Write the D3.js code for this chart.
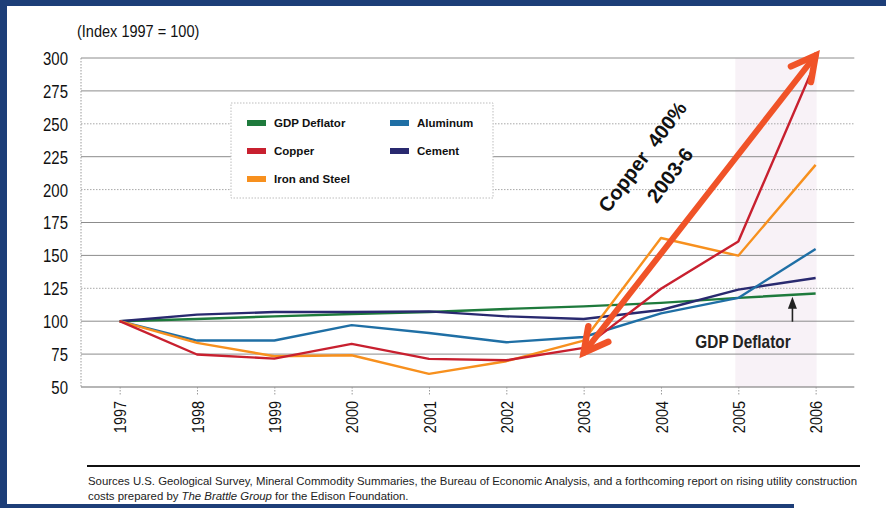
<!DOCTYPE html>
<html>
<head>
<meta charset="utf-8">
<script src="https://cdn.jsdelivr.net/npm/d3@7"></script>
<style>
  html, body { margin: 0; padding: 0; background: #ffffff; }
  svg { display: block; }
  text { font-family: "Liberation Sans", Arial, sans-serif; }
</style>
</head>
<body>
<svg id="chart" width="886" height="508"></svg>
<script>
// Price indices of construction materials, 1997 = 100
const years = [1997, 1998, 1999, 2000, 2001, 2002, 2003, 2004, 2005, 2006];
const gdpDeflator = [100, 101.7, 103.7, 105.5, 107, 109.3, 111.3, 113.9, 117.7, 121];
const copper      = [100, 74.7, 71.6, 82.8, 71.4, 70.3, 79.7, 124.7, 160.6, 297];
const ironSteel   = [100, 83.5, 73.4, 74.1, 60, 69.6, 85.3, 163.2, 149.8, 218.8];
const aluminum    = [100, 85.3, 85.3, 97, 91, 84, 88, 106, 117.7, 154.9];
const cement      = [100, 105, 107, 107, 107.5, 103.7, 101.7, 108.5, 124, 132.8];
const yTicks = [50, 75, 100, 125, 150, 175, 200, 225, 250, 275, 300];
const dottedTicks = [125, 200, 250];

const seriesNames  = ["GDP Deflator", "Copper", "Iron and Steel", "Aluminum", "Cement"];
const seriesColors = ["#1e7a3c", "#c8202f", "#f7901e", "#1f6fa5", "#29296f"];
const seriesValues = [gdpDeflator, copper, ironSteel, aluminum, cement];
const drawOrder = [0, 4, 3, 2, 1];

// Callout: copper rise 2003-2006
const calloutFrom = [2003, 76];
const calloutTo   = [2006, 302];

const svg = d3.select("#chart");

// Squeeze text horizontally to imitate a condensed typeface
function condense(sel, k) {
  sel.each(function () {
    const w = this.getComputedTextLength();
    d3.select(this).attr("textLength", w * k).attr("lengthAdjust", "spacingAndGlyphs");
  });
}

// Frame
svg.append("rect").attr("x", 0).attr("y", 0).attr("width", 886).attr("height", 508).attr("fill", "#ffffff");
svg.append("rect").attr("x", 0).attr("y", 0).attr("width", 886).attr("height", 6).attr("fill", "#1d3e78");
svg.append("rect").attr("x", 0).attr("y", 0).attr("width", 7).attr("height", 508).attr("fill", "#1d3e78");
svg.append("rect").attr("x", 0).attr("y", 504).attr("width", 794).attr("height", 4).attr("fill", "#1d3e78");

const x = d3.scaleLinear().domain([1996.5, 2006.5]).range([81, 854.3]);
const y = d3.scaleLinear().domain([50, 300]).range([387, 58]);

// Shaded 2005-2006 band
svg.append("rect")
  .attr("x", x(2005) - 3).attr("y", y(300))
  .attr("width", x(2006) - x(2005) + 4).attr("height", y(50) - y(300))
  .attr("fill", "#f8f2f7");

// Horizontal gridlines
svg.append("g").selectAll("line").data(yTicks.filter(v => v > 50)).join("line")
  .attr("x1", x.range()[0]).attr("x2", x.range()[1])
  .attr("y1", d => y(d)).attr("y2", d => y(d))
  .attr("stroke", d => dottedTicks.includes(d) ? "#a8a8a8" : "#8c8c8c")
  .attr("stroke-width", 1)
  .attr("stroke-dasharray", d => dottedTicks.includes(d) ? "1.5,1.5" : null);

// Left edge and baseline
svg.append("line").attr("x1", x.range()[0]).attr("x2", x.range()[0])
  .attr("y1", y(300)).attr("y2", y(50))
  .attr("stroke", "#9a9a9a").attr("stroke-dasharray", "1.5,1.5");

// Y axis labels
const yAxis = svg.append("g").attr("transform", `translate(68,0)`)
  .call(d3.axisLeft(y).tickValues(yTicks).tickSize(0).tickPadding(0));
yAxis.select(".domain").remove();
yAxis.selectAll("text")
  .attr("font-size", 18).attr("fill", "#111").attr("dy", "0.36em")
  .style("font-family", "'Liberation Sans', Arial, sans-serif")
  .call(condense, 0.83);

// X axis with rotated year labels
const xAxis = svg.append("g").attr("transform", `translate(0,${y(50)})`)
  .call(d3.axisBottom(x).tickValues(years).tickFormat(d3.format("d")).tickSize(8).tickPadding(0));
xAxis.select(".domain").attr("stroke", "#6e6e6e").attr("stroke-width", 1.2)
  .attr("d", `M${x.range()[0]},0H${x.range()[1]}`);
xAxis.selectAll(".tick line").attr("stroke", "#9a9a9a").attr("stroke-dasharray", "1.5,1.5");
xAxis.selectAll("text")
  .attr("font-size", 17).attr("fill", "#111")
  .style("font-family", "'Liberation Sans', Arial, sans-serif")
  .attr("text-anchor", "end")
  .attr("transform", "rotate(-90)")
  .attr("x", -14).attr("y", 0).attr("dy", "0.36em")
  .call(condense, 0.85);

// Series lines
const line = d3.line().x((d, i) => x(years[i])).y(d => y(d));
svg.append("g").selectAll("path").data(drawOrder).join("path")
  .attr("d", i => line(seriesValues[i]))
  .attr("fill", "none")
  .attr("stroke", i => seriesColors[i])
  .attr("stroke-width", 2.4)
  .attr("stroke-linejoin", "round");

// Title
svg.append("text").attr("x", 77).attr("y", 37)
  .attr("font-size", 16.5).attr("fill", "#111")
  .text("(Index 1997 = 100)")
  .call(condense, 0.88);

// Legend
const legend = svg.append("g");
legend.append("rect").attr("x", 231).attr("y", 103).attr("width", 262).attr("height", 95)
  .attr("fill", "#ffffff").attr("stroke", "#bdbdbd").attr("stroke-dasharray", "1.5,1.5");
const legendPos = [[247, 123], [247, 151], [247, 179], [390, 123], [390, 151]];
seriesNames.forEach((name, i) => {
  const [lx, ly] = legendPos[i];
  legend.append("rect").attr("x", lx).attr("y", ly - 3).attr("width", 19).attr("height", 6)
    .attr("fill", seriesColors[i]);
  legend.append("text").attr("x", lx + 27).attr("y", ly).attr("dy", "0.36em")
    .attr("font-size", 11.5).attr("font-weight", "bold").attr("fill", "#111")
    .text(name);
});

// Copper callout: double-headed arrow with rotated text
const p0 = [x(calloutFrom[0]), y(calloutFrom[1])];
const p1 = [x(calloutTo[0]), y(calloutTo[1])];
const calloutColor = "#f05328";
svg.append("line").attr("x1", p0[0]).attr("y1", p0[1]).attr("x2", p1[0]).attr("y2", p1[1])
  .attr("stroke", calloutColor).attr("stroke-width", 6).attr("stroke-linecap", "round");
function chevron(tip, toward) {
  const ang = Math.atan2(toward[1] - tip[1], toward[0] - tip[0]);
  const len = 27, spread = 28 * Math.PI / 180;
  const a = [tip[0] + len * Math.cos(ang - spread), tip[1] + len * Math.sin(ang - spread)];
  const b = [tip[0] + len * Math.cos(ang + spread), tip[1] + len * Math.sin(ang + spread)];
  svg.append("path").attr("d", `M${a[0]},${a[1]}L${tip[0]},${tip[1]}L${b[0]},${b[1]}`)
    .attr("fill", "none").attr("stroke", calloutColor).attr("stroke-width", 6.5)
    .attr("stroke-linecap", "round").attr("stroke-linejoin", "miter");
}
chevron(p0, p1);
chevron(p1, p0);

const callout = svg.append("g").attr("transform", "translate(648,161) rotate(-53)");
callout.append("text").attr("x", 0).attr("y", 0).attr("text-anchor", "middle")
  .attr("font-size", 20).attr("font-weight", "bold").attr("fill", "#111")
  .attr("xml:space", "preserve")
  .text("Copper  400%");
callout.append("text").attr("x", 2).attr("y", 33).attr("text-anchor", "middle")
  .attr("font-size", 20).attr("font-weight", "bold").attr("fill", "#111")
  .text("2003-6");

// GDP Deflator pointer
const gx = x(2005.7);
svg.append("line").attr("x1", gx).attr("x2", gx).attr("y1", y(99.6)).attr("y2", y(115))
  .attr("stroke", "#222").attr("stroke-width", 1.6);
svg.append("path")
  .attr("d", `M${gx},${y(118.6)}L${gx - 4.5},${y(109.5)}L${gx + 4.5},${y(109.5)}Z`)
  .attr("fill", "#222");
svg.append("text").attr("x", 743).attr("y", 348).attr("text-anchor", "middle")
  .attr("font-size", 18.5).attr("font-weight", "bold").attr("fill", "#222")
  .text("GDP Deflator")
  .call(condense, 0.83);

// Source note
svg.append("line").attr("x1", 87).attr("x2", 860).attr("y1", 466).attr("y2", 466)
  .attr("stroke", "#111").attr("stroke-width", 1.8);
const src1 = svg.append("text").attr("x", 88).attr("y", 485)
  .attr("font-size", 11).attr("fill", "#222")
  .text("Sources  U.S. Geological Survey, Mineral Commodity Summaries, the Bureau of Economic Analysis, and a forthcoming report on rising utility construction");
const natural = src1.node().getComputedTextLength();
const k = 769 / natural;
src1.attr("textLength", 769).attr("lengthAdjust", "spacingAndGlyphs");
const src2 = svg.append("text").attr("x", 88).attr("y", 500)
  .attr("font-size", 11).attr("fill", "#222");
src2.append("tspan").text("costs prepared by ");
src2.append("tspan").attr("font-style", "italic").text("The Brattle Group");
src2.append("tspan").text(" for the Edison Foundation.");
src2.call(condense, k);
</script>
</body>
</html>
